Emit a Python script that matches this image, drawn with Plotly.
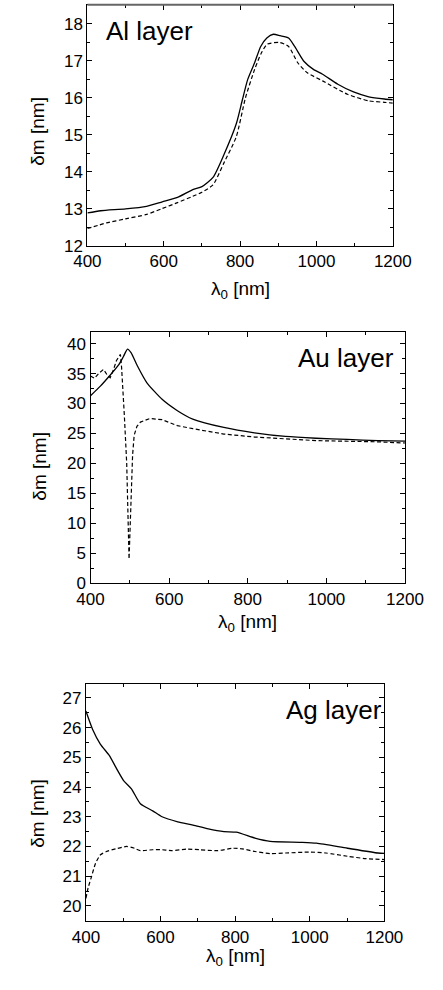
import plotly.graph_objects as go

# Al layer
al_x = [400, 435, 500, 555, 596, 636, 676, 700, 729, 757, 790, 806, 820, 838, 854, 870, 887,
        905, 927, 943, 967, 992, 1016, 1056, 1097, 1137, 1178, 1200]
al_solid = [12.89, 12.95, 13.00, 13.07, 13.19, 13.31, 13.52, 13.60, 13.85, 14.45, 15.30, 15.95,
            16.50, 16.95, 17.39, 17.62, 17.72, 17.68, 17.62, 17.39, 16.99, 16.77, 16.64, 16.37,
            16.16, 16.03, 15.97, 15.95]
al_dash_x = [400, 450, 500, 555, 596, 636, 676, 700, 729, 757, 790, 814, 838, 855, 871, 903, 927,
             951, 976, 1016, 1081, 1137, 1178, 1200]
al_dash = [12.47, 12.62, 12.73, 12.85, 13.01, 13.17, 13.34, 13.45, 13.65, 14.23, 14.95, 16.00,
           16.77, 17.20, 17.45, 17.50, 17.39, 16.95, 16.68, 16.46, 16.10, 15.92, 15.88, 15.86]

# Au layer
au_x = [400, 425, 448, 472, 484, 494, 503, 519, 543, 582, 621, 660, 739, 817, 896, 974, 1053,
        1131, 1200]
au_solid = [31.3, 32.9, 34.6, 36.5, 37.9, 39.1, 38.5, 36.3, 33.5, 30.7, 28.8, 27.4, 26.0, 25.1,
            24.5, 24.2, 24.0, 23.8, 23.7]
au_dash_x = [400, 410, 422, 433, 442, 450, 458, 466, 476, 479, 486, 492, 498, 503, 507, 511, 518,
             527, 551, 582, 621, 660, 739, 817, 896, 974, 1131, 1200]
au_dash = [34.6, 34.2, 35.1, 35.7, 34.8, 34.3, 35.6, 37.2, 38.2, 36.0, 28.0, 20.0, 4.0, 13.0,
           21.4, 24.7, 26.2, 26.9, 27.5, 27.3, 26.3, 25.8, 24.9, 24.4, 24.1, 23.8, 23.6, 23.4]

# Ag layer
ag_x = [400, 418, 439, 463, 480, 501, 522, 546, 579, 604, 646, 687, 728, 770, 803, 853, 894,
        977, 1018, 1101, 1183, 1200]
ag_solid = [26.56, 25.94, 25.44, 25.06, 24.67, 24.22, 23.94, 23.44, 23.20, 23.00, 22.83, 22.72,
            22.59, 22.50, 22.48, 22.28, 22.17, 22.14, 22.11, 21.94, 21.78, 21.77]
ag_dash_x = [400, 406, 414, 426, 439, 455, 480, 509, 530, 546, 579, 604, 629, 670, 704, 753, 795,
             819, 853, 894, 935, 1001, 1043, 1101, 1150, 1200]
ag_dash = [20.25, 20.61, 20.94, 21.44, 21.72, 21.83, 21.92, 22.00, 21.94, 21.86, 21.89, 21.89,
           21.86, 21.91, 21.89, 21.86, 21.94, 21.92, 21.83, 21.76, 21.78, 21.81, 21.78, 21.67,
           21.59, 21.56]

panel_labels = ["Al layer", "Au layer", "Ag layer"]
x_title = "λ<sub>0</sub> [nm]"
y_title = "δm [nm]"

W, H = 443, 990
FONT = "Liberation Sans, Arial, sans-serif"


def px_x(v):
    return v / W


def px_y(v):
    return 1 - v / H


# plot-area boxes in pixels: left, right, top, bottom
boxes = [
    (79.3, 409.3, 4.7, 248.4),
    (82.7, 422.5, 335.7, 589.0),
    (77.7, 400.2, 690.7, 930.7),
]
y_ranges = [[12, 18.52], [0, 41.9], [19.48, 27.48]]
y_dticks = [(1, 0.5), (5, 2.5), (1, 0.5)]

fig = go.Figure()

series = [
    (al_x, al_solid, al_dash_x, al_dash, "spline"),
    (au_x, au_solid, au_dash_x, au_dash, "linear"),
    (ag_x, ag_solid, ag_dash_x, ag_dash, "spline"),
]

for i, (sx, sy, dx, dy, dshape) in enumerate(series):
    xa = "x" if i == 0 else f"x{i+1}"
    ya = "y" if i == 0 else f"y{i+1}"
    fig.add_trace(go.Scatter(x=sx, y=sy, mode="lines", xaxis=xa, yaxis=ya,
                             line=dict(color="black", width=1.3, shape="spline", smoothing=0.6),
                             showlegend=False))
    fig.add_trace(go.Scatter(x=dx, y=dy, mode="lines", xaxis=xa, yaxis=ya,
                             line=dict(color="black", width=1.2, dash="4px,2.5px",
                                       shape=dshape, smoothing=0.6),
                             showlegend=False))

common = dict(showline=True, linecolor="black", linewidth=1.2, mirror="allticks",
              ticks="inside", ticklen=5, tickwidth=1, tickcolor="black",
              showgrid=False, zeroline=False,
              tickfont=dict(family=FONT, size=17, color="black"))

layout = dict(width=W, height=H, margin=dict(l=0, r=0, t=0, b=0),
              plot_bgcolor="white", paper_bgcolor="white", showlegend=False)

annotations = []
for i, (l, r, t, b) in enumerate(boxes):
    sfx = "" if i == 0 else str(i + 1)
    layout["xaxis" + sfx] = dict(common, domain=[px_x(l), px_x(r)], range=[400, 1200],
                                 tick0=400, dtick=200, anchor="y" + sfx,
                                 minor=dict(ticks="inside", ticklen=3, tickwidth=1,
                                            tickcolor="black", dtick=100, tick0=400))
    d, md = y_dticks[i]
    layout["yaxis" + sfx] = dict(common, domain=[px_y(b), px_y(t)], range=y_ranges[i],
                                 tick0=0, dtick=d, anchor="x" + sfx,
                                 minor=dict(ticks="inside", ticklen=3, tickwidth=1,
                                            tickcolor="black", dtick=md, tick0=0))

# axis titles
x_title_y = [293, 629, 967]
y_title_pos = [(26, 133), (27.5, 471), (26, 822)]
for i, (l, r, t, b) in enumerate(boxes):
    annotations.append(dict(text=x_title, xref="paper", yref="paper",
                            x=px_x((l + r) / 2), y=px_y(x_title_y[i]),
                            xanchor="center", yanchor="middle", showarrow=False,
                            font=dict(family=FONT, size=19, color="black")))
    yx, yy = y_title_pos[i]
    annotations.append(dict(text=y_title, xref="paper", yref="paper",
                            x=px_x(yx), y=px_y(yy), textangle=-90,
                            xanchor="center", yanchor="middle", showarrow=False,
                            font=dict(family=FONT, size=19, color="black")))

# panel labels
label_pos = [(97, 31), (305, 362), (292, 717)]
for txt, (lx, ly) in zip(panel_labels, label_pos):
    annotations.append(dict(text=txt, xref="paper", yref="paper",
                            x=px_x(lx), y=px_y(ly), xanchor="left", yanchor="middle",
                            showarrow=False,
                            font=dict(family=FONT, size=26, color="black")))

layout["annotations"] = annotations

# grey top edge of the first frame
l, r, t, b = boxes[0]
layout["shapes"] = [dict(type="line", xref="paper", yref="paper",
                         x0=px_x(l), x1=px_x(r), y0=px_y(t), y1=px_y(t),
                         line=dict(color="#666666", width=2))]

fig.update_layout(**layout)
fig.write_html("out.html")
